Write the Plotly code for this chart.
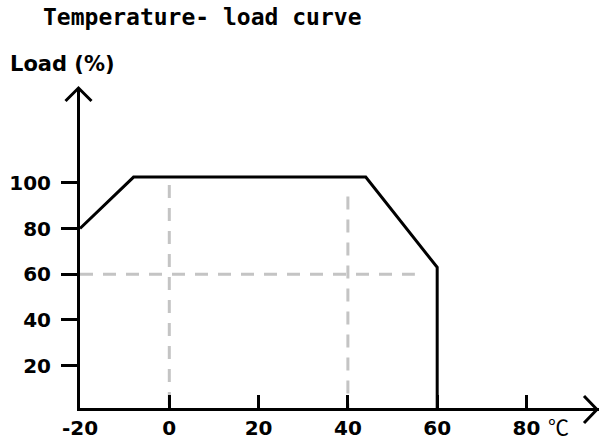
import plotly.graph_objects as go

# ---- data ----
temp = [-20, -8, 44, 60, 60]
load = [80, 102.5, 102.5, 63, 0]

guide_v0_x = [0, 0]
guide_v0_y = [99, 0]
guide_v40_x = [40, 40]
guide_v40_y = [94, 0]
guide_h60_x = [-20, 55]
guide_h60_y = [60, 60]

x_tickvals = [-20, 0, 20, 40, 60, 80]
x_ticktext = ["-20", "0", "20", "40", "60", "80"]
y_tickvals = [20, 40, 60, 80, 100]
y_ticktext = ["20", "40", "60", "80", "100"]

title_text = "Temperature- load curve"
ylabel_text = "Load (%)"
unit_text = "℃"

# ---- layout geometry ----
W, H = 599, 443
L, R, T, B = 80, 0, 88, 35
PW, PH = W - L - R, H - T - B
x_range = [-20, 96.24]
y_range = [1.44, 141.5]


def px2paper(px, py):
    return (px - L) / PW, (H - B - py) / PH


grey = "#c4c4c4"
fig = go.Figure()
for gx, gy in [(guide_v0_x, guide_v0_y), (guide_v40_x, guide_v40_y), (guide_h60_x, guide_h60_y)]:
    fig.add_trace(go.Scatter(x=gx, y=gy, mode="lines",
                             line=dict(color=grey, width=3, dash="13px,10px"),
                             hoverinfo="skip", showlegend=False))
fig.add_trace(go.Scatter(x=temp, y=load, mode="lines",
                         line=dict(color="black", width=3),
                         showlegend=False))

tick_font = dict(family="DejaVu Sans", size=20, color="black", weight="bold")
fig.update_xaxes(range=x_range, showgrid=False, zeroline=False,
                 showline=True, linecolor="black", linewidth=3,
                 ticks="inside", ticklen=13, tickwidth=3, tickcolor="black",
                 tickvals=x_tickvals, ticktext=x_ticktext, tickfont=tick_font,
                 ticklabelstandoff=0)
fig.update_yaxes(range=y_range, showgrid=False, zeroline=False,
                 showline=True, linecolor="black", linewidth=3,
                 ticks="outside", ticklen=16, tickwidth=3, tickcolor="black",
                 tickvals=y_tickvals, ticktext=y_ticktext, tickfont=tick_font,
                 ticklabelstandoff=6)

# arrow heads (decoration, pixel based -> paper)
def chevron(p_tip, p_a, p_b):
    (tx, ty), (ax, ay), (bx, by) = px2paper(*p_tip), px2paper(*p_a), px2paper(*p_b)
    return dict(type="path", xref="paper", yref="paper",
                path=f"M {ax},{ay} L {tx},{ty} L {bx},{by}",
                line=dict(color="black", width=3))

shapes = [
    chevron((78.5, 88), (65.5, 101), (91.5, 101)),
    chevron((597, 409.5), (584, 396), (584, 423)),
]

annotations = [
    dict(text=title_text, xref="paper", yref="paper",
         x=px2paper(41, 0)[0], y=px2paper(0, 17)[1], xanchor="left", yanchor="middle",
         showarrow=False,
         font=dict(family="DejaVu Sans Mono", size=23, color="black", weight="bold")),
    dict(text=ylabel_text, xref="paper", yref="paper",
         x=px2paper(8, 0)[0], y=px2paper(0, 64)[1], xanchor="left", yanchor="middle",
         showarrow=False,
         font=dict(family="DejaVu Sans", size=21, color="black", weight="bold")),
    dict(text=unit_text, xref="x", yref="paper",
         x=80, y=px2paper(0, 426)[1], xanchor="left", yanchor="middle",
         xshift=20, showarrow=False,
         font=dict(family="Noto Sans CJK SC", size=21, color="black")),
]

fig.update_layout(width=W, height=H, margin=dict(l=L, r=R, t=T, b=B),
                  paper_bgcolor="white", plot_bgcolor="white",
                  shapes=shapes, annotations=annotations, showlegend=False)

fig.write_html("out.html", config={"displayModeBar": False},
               post_script="document.body.style.margin='0px';")
